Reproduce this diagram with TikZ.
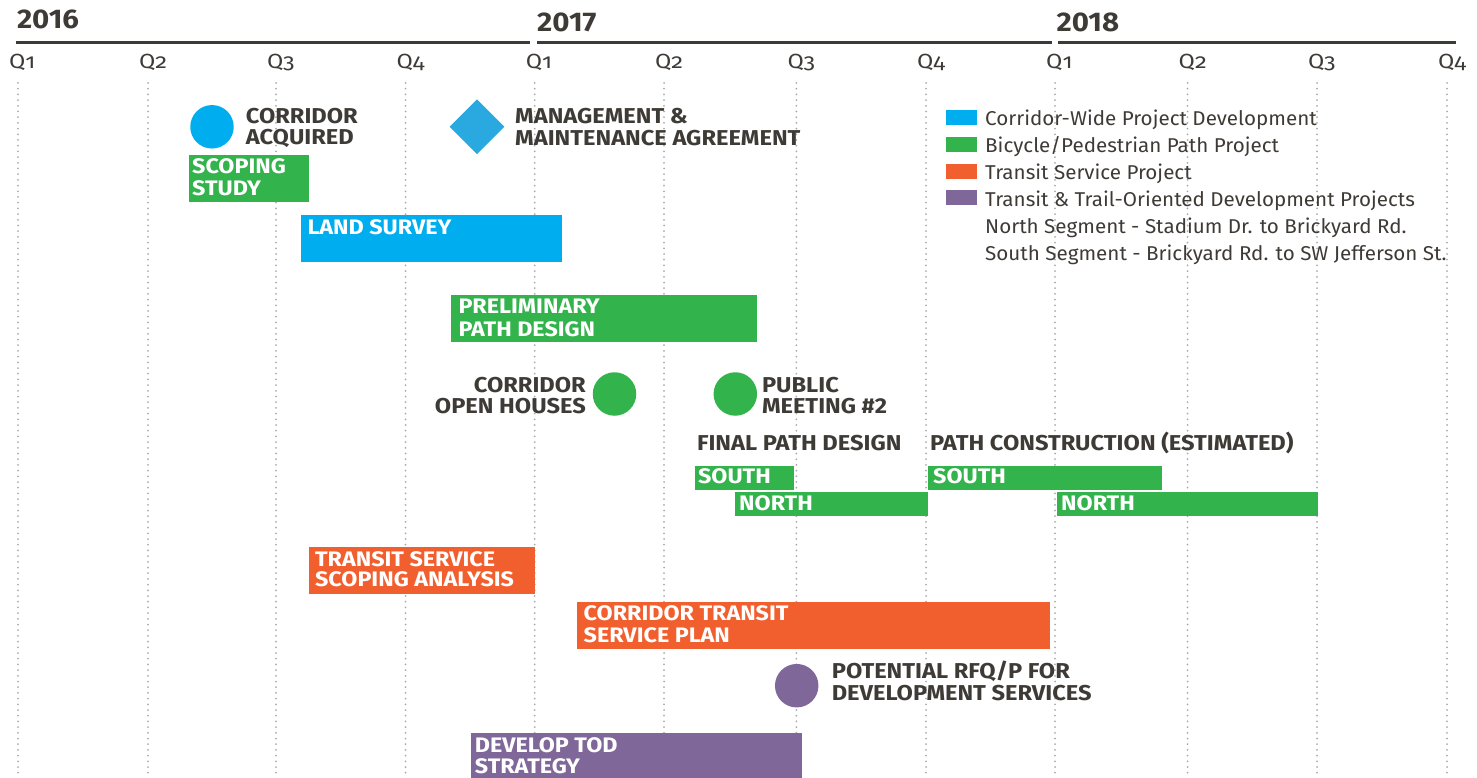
\documentclass[tikz,border=0pt]{standalone}
\usepackage{fontspec}
\setmainfont{Fira Sans}
\newfontfamily\qfont[Numbers=OldStyle, FakeStretch=1.15]{Fira Sans}
\newfontfamily\yearfont[FakeStretch=1.09]{Fira Sans}
\newfontfamily\labfont[FakeStretch=1.1]{Fira Sans}
\newfontfamily\wfont[FakeStretch=1.11]{Fira Sans}
\newfontfamily\legfont[FakeStretch=1.03]{Fira Sans}
\usetikzlibrary{shapes.geometric}
\definecolor{cblue}{HTML}{00AEEF}
\definecolor{cdiam}{HTML}{2AA8E0}
\definecolor{cgreen}{HTML}{32B34B}
\definecolor{corange}{HTML}{F15F2E}
\definecolor{cpurple}{HTML}{7F6799}
\definecolor{cdark}{HTML}{3E3A36}
\definecolor{cgrid}{HTML}{A9ABAE}
\tikzset{
  gridline/.style={cgrid, line width=2pt, dash pattern=on 0pt off 5.7pt, line cap=round},
  tline/.style={cdark, line width=3pt},
  year/.style={font=\yearfont\fontsize{27}{27}\selectfont\bfseries, text=cdark, inner sep=0pt, anchor=base west},
  qlab/.style={font=\qfont\fontsize{20.5}{20.5}\selectfont, text=cdark, inner sep=0pt, anchor=base west},
  lbl/.style={font=\labfont\fontsize{21.5}{21.5}\selectfont\bfseries, text=cdark, inner sep=0pt, anchor=base west},
  lblr/.style={lbl, anchor=base east},
  wlbl/.style={font=\wfont\fontsize{21}{21}\selectfont\bfseries, text=white, inner sep=0pt, anchor=base west},
  legtxt/.style={font=\legfont\fontsize{20}{20}\selectfont, text=cdark, inner sep=0pt, anchor=base west},
  legsq/.style={draw=none, minimum width=31pt, minimum height=15pt, inner sep=0pt, anchor=south west},
  bar/.style={draw=none, inner sep=0pt, anchor=north west},
  dot/.style={circle, draw=none, minimum size=43.5pt, inner sep=0pt},
}
\begin{document}
\begin{tikzpicture}[x=1pt,y=-1pt]
\useasboundingbox (0,0) rectangle (1477,778);
% grid lines
\foreach \i/\x in {1/18,2/148,3/276,4/405.5,5/534.7,6/664,7/796.4,8/926,9/1055,10/1187.5,11/1317,12/1447}{
  \coordinate (gt\i) at (\x,83);
  \coordinate (gb\i) at (\x,778);
  \draw[gridline] (gt\i) -- (gb\i);
}
% timeline
\coordinate (l1a) at (15.7,42.3); \coordinate (l1b) at (530,42.3);
\coordinate (l2a) at (537,42.3);  \coordinate (l2b) at (1052,42.3);
\coordinate (l3a) at (1058,42.3); \coordinate (l3b) at (1456,42.3);
\draw[tline] (l1a) -- (l1b);
\draw[tline] (l2a) -- (l2b);
\draw[tline] (l3a) -- (l3b);
\node[year] (y16) at (16.8,29) {2016};
\node[year] (y17) at (537,31.5) {2017};
\node[year] (y18) at (1056.4,31.5) {2018};
% quarter labels
\foreach \i/\x/\q in {1/18/1,2/148/2,3/276/3,4/405.5/4,5/534.7/1,6/664/2,7/796.4/3,8/926/4,9/1055/1,10/1187.5/2,11/1317/3,12/1447/4}{
  \node[qlab] (q\i) at (\x-9,68.3) {Q\q};
}
% legend
\node[legsq, fill=cblue] (ls1) at (946,125.7) {};
\node[legsq, fill=cgreen] (ls2) at (946,152.3) {};
\node[legsq, fill=corange] (ls3) at (946,179) {};
\node[legsq, fill=cpurple] (ls4) at (946,205.7) {};
\node[legtxt] (lt1) at (985,125.3) {Corridor-Wide Project Development};
\node[legtxt] (lt2) at (985,152.3) {Bicycle/Pedestrian Path Project};
\node[legtxt] (lt3) at (985,179.3) {Transit Service Project};
\node[legtxt] (lt4) at (985,206.3) {Transit \& Trail-Oriented Development Projects};
\node[legtxt] (lt5) at (985,233.3) {North Segment - Stadium Dr. to Brickyard Rd.};
\node[legtxt] (lt6) at (985,260.3) {South Segment - Brickyard Rd. to SW Jefferson St.};
% corridor acquired
\node[dot, fill=cblue] (acq) at (212,126.8) {};
\node[lbl] (acqa) at (245.7,123.3) {CORRIDOR};
\node[lbl] (acqb) at (245.7,145) {ACQUIRED};
% management agreement
\node[diamond, aspect=1, minimum width=55pt, minimum height=55pt, inner sep=0pt, fill=cdiam] (mma) at (477,126.7) {};
\node[lbl] (mmaa) at (515,123.3) {MANAGEMENT \&};
\node[lbl] (mmab) at (515,145.5) {MAINTENANCE AGREEMENT};
% scoping study
\node[bar, fill=cgreen, minimum width=119.6pt, minimum height=46.7pt] (scop) at (189,155) {};
\node[wlbl] (scopa) at (192,174) {SCOPING};
\node[wlbl] (scopb) at (192,196) {STUDY};
% land survey
\node[bar, fill=cblue, minimum width=261pt, minimum height=46.7pt] (land) at (301,215) {};
\node[wlbl] (landa) at (307.3,234) {LAND SURVEY};
% preliminary path design
\node[bar, fill=cgreen, minimum width=305.7pt, minimum height=46.7pt] (prel) at (451,295) {};
\node[wlbl] (prela) at (458.3,313.3) {PRELIMINARY};
\node[wlbl] (prelb) at (458.3,336) {PATH DESIGN};
% open houses
\node[dot, fill=cgreen] (open) at (614.5,394) {};
\node[lblr] (opena) at (586,392.3) {CORRIDOR};
\node[lblr] (openb) at (586,413.3) {OPEN HOUSES};
% public meeting
\node[dot, fill=cgreen] (pub) at (735.3,394) {};
\node[lbl] (puba) at (761.8,392.3) {PUBLIC};
\node[lbl] (pubb) at (761.8,413.3) {MEETING \#2};
% final path design
\node[lbl] (fpd) at (696.8,450.7) {FINAL PATH DESIGN};
\node[bar, fill=cgreen, minimum width=98.6pt, minimum height=24pt] (fs) at (695,466) {};
\node[wlbl] (fsa) at (697.9,483.3) {SOUTH};
\node[bar, fill=cgreen, minimum width=193pt, minimum height=23.7pt] (fn) at (735,492) {};
\node[wlbl] (fna) at (739,510.7) {NORTH};
% path construction
\node[lbl] (pc) at (930,450.3) {PATH CONSTRUCTION (ESTIMATED)};
\node[bar, fill=cgreen, minimum width=234pt, minimum height=24pt] (cs) at (928,466) {};
\node[wlbl] (csa) at (933,483.3) {SOUTH};
\node[bar, fill=cgreen, minimum width=261.3pt, minimum height=24pt] (cn) at (1056.7,492) {};
\node[wlbl] (cna) at (1061,510.7) {NORTH};
% transit service scoping analysis
\node[bar, fill=corange, minimum width=226.4pt, minimum height=46.6pt] (tss) at (308.4,546.7) {};
\node[wlbl] (tssa) at (314.9,566) {TRANSIT SERVICE};
\node[wlbl] (tssb) at (314.9,586.7) {SCOPING ANALYSIS};
% corridor transit service plan
\node[bar, fill=corange, minimum width=473pt, minimum height=46.6pt] (ctsp) at (577,601.7) {};
\node[wlbl] (ctspa) at (583.5,620.7) {CORRIDOR TRANSIT};
\node[wlbl] (ctspb) at (583.5,642.3) {SERVICE PLAN};
% potential RFQ/P
\node[dot, fill=cpurple] (rfq) at (796.7,685.7) {};
\node[lbl] (rfqa) at (831.6,678.7) {POTENTIAL RFQ/P FOR};
\node[lbl] (rfqb) at (831.6,700.7) {DEVELOPMENT SERVICES};
% develop TOD strategy
\node[bar, fill=cpurple, minimum width=331.6pt, minimum height=45pt] (tod) at (470.4,733) {};
\node[wlbl] (toda) at (474.7,752) {DEVELOP TOD};
\node[wlbl] (todb) at (474.7,773.3) {STRATEGY};
\end{tikzpicture}
\end{document}
